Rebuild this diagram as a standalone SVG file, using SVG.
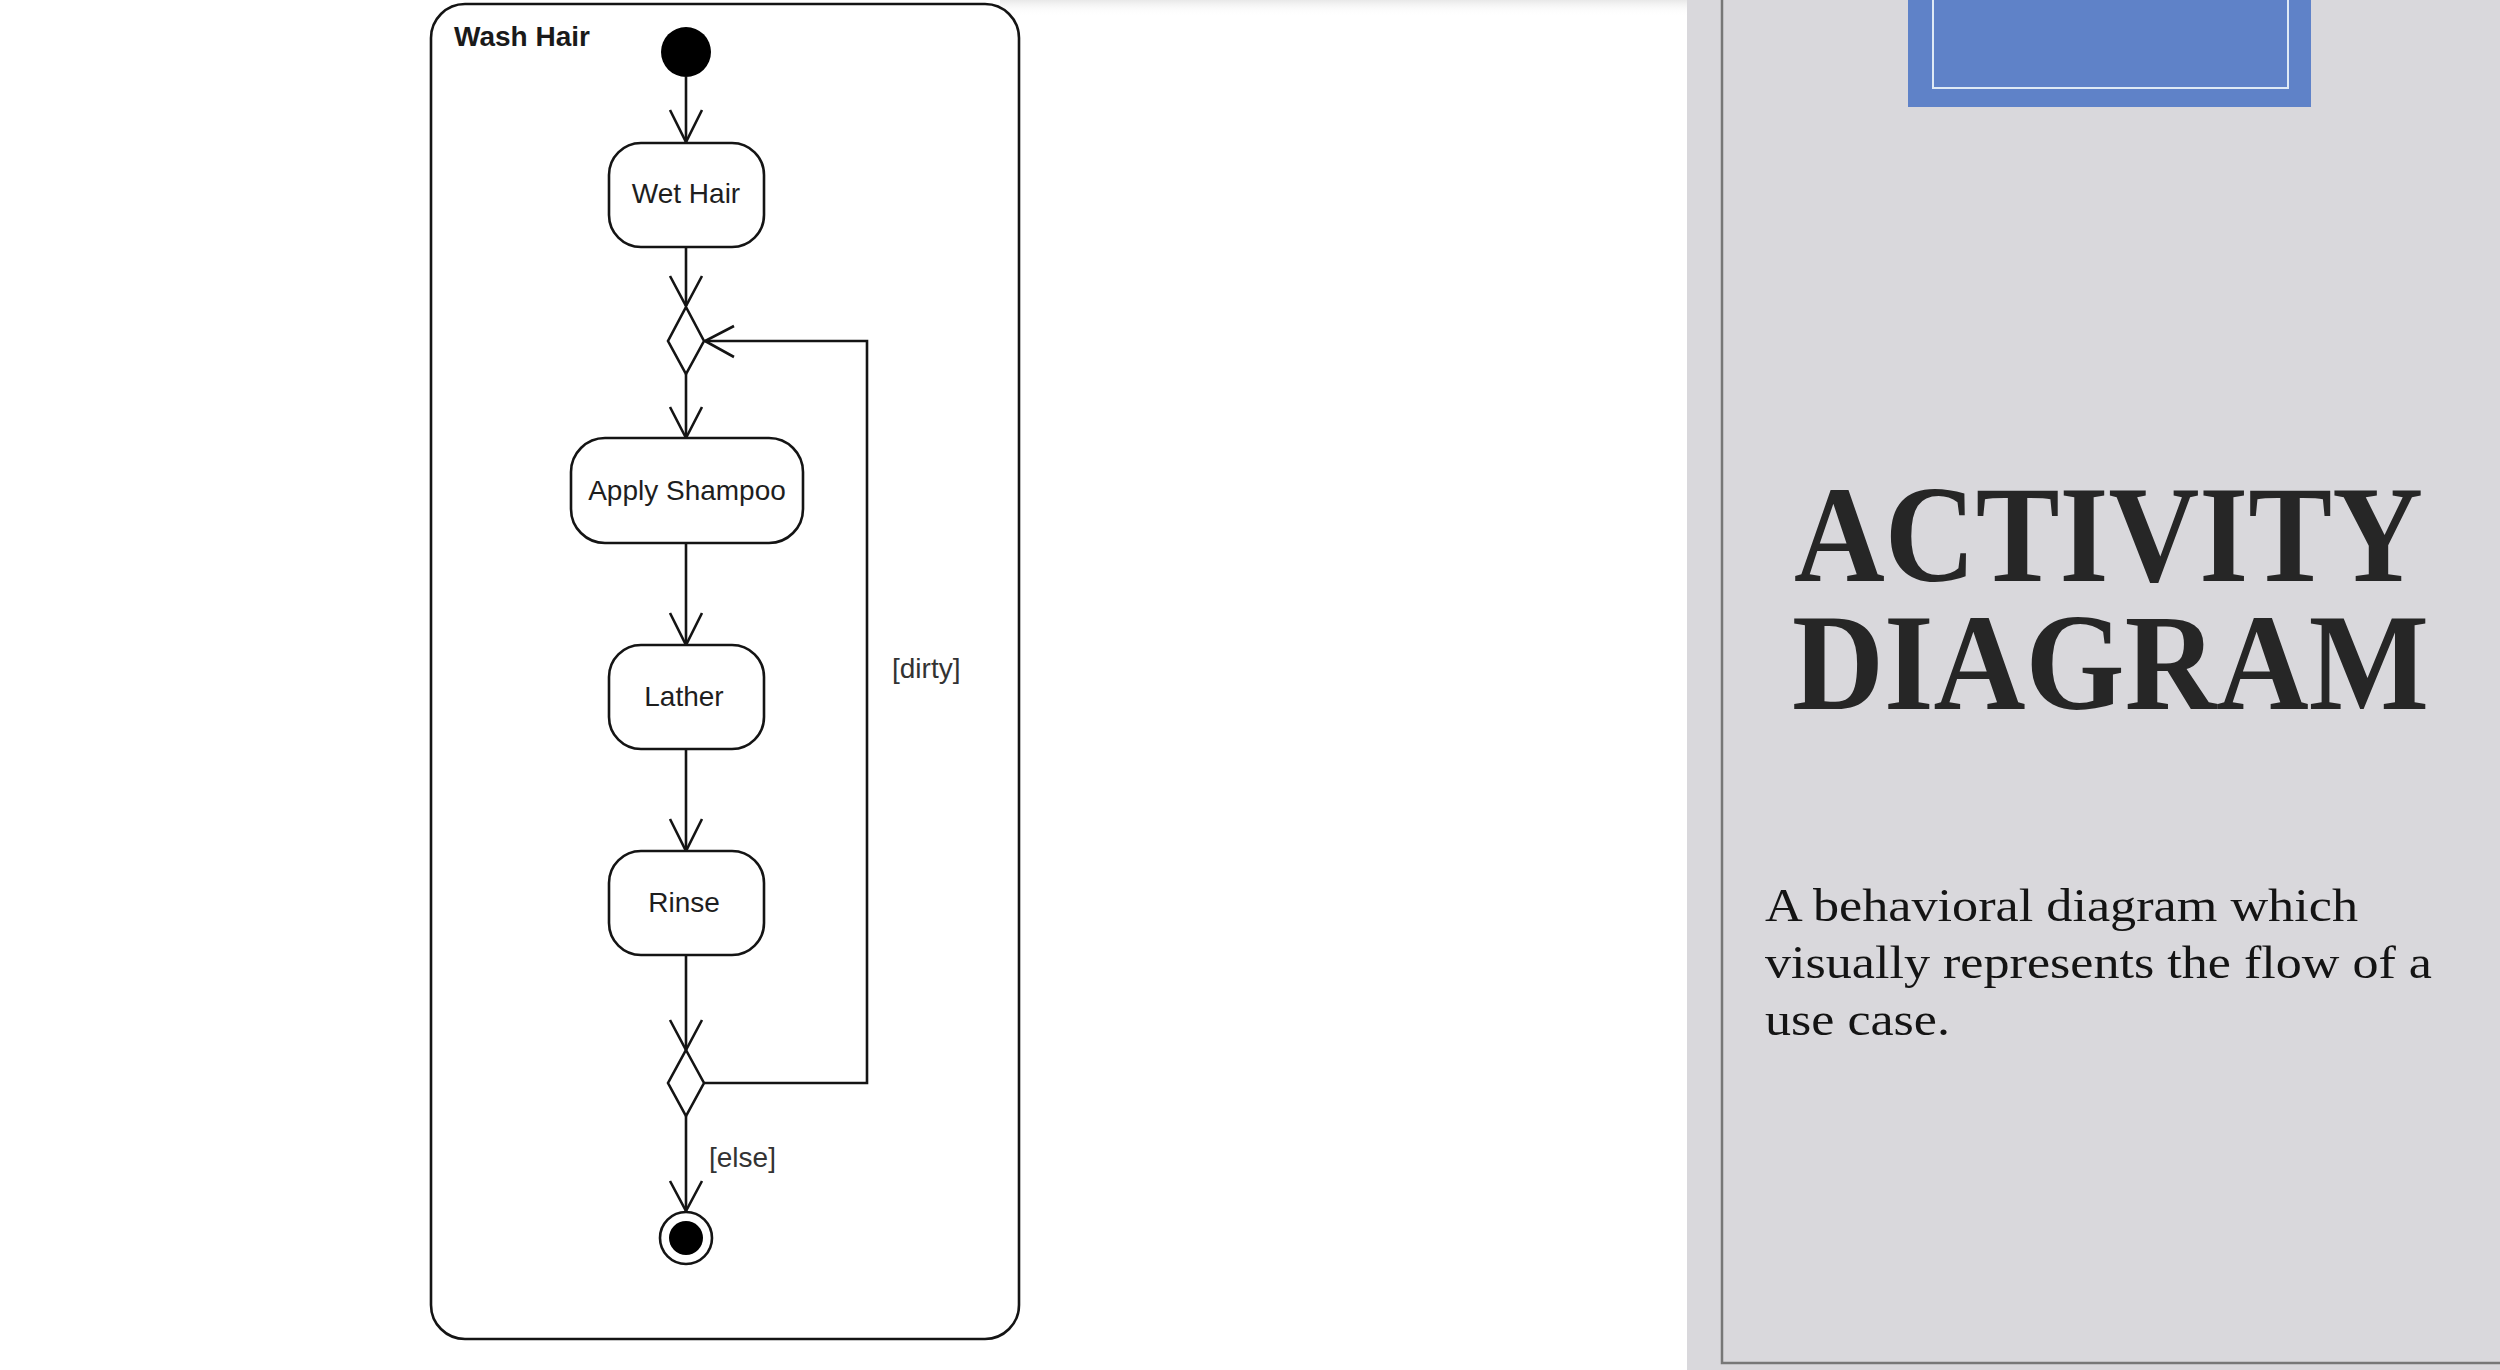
<svg xmlns="http://www.w3.org/2000/svg" width="2500" height="1370" viewBox="0 0 2500 1370">
<defs>
<style>
.ln{fill:none;stroke:#141414;stroke-width:2.6;stroke-linejoin:miter}
.box{fill:#ffffff;stroke:#141414;stroke-width:2.6}
.lbl{font-family:"Liberation Sans",Arial,sans-serif;font-size:28px;fill:#1e1e1e;text-anchor:middle}
.grd{font-family:"Liberation Sans",Arial,sans-serif;font-size:28px;fill:#333333}
.ttl{font-family:"Liberation Serif","Times New Roman",serif;font-weight:bold;font-size:138px;fill:#262626}
.body{font-family:"Liberation Serif","Times New Roman",serif;font-size:46px;fill:#141414}
</style>
<linearGradient id="topShade" x1="0" y1="0" x2="0" y2="1">
<stop offset="0" stop-color="#e8e8e8"/>
<stop offset="1" stop-color="#ffffff" stop-opacity="0"/>
</linearGradient>
</defs>
<rect width="2500" height="1370" fill="#ffffff"/>
<rect x="1000" y="0" width="687" height="16" fill="url(#topShade)"/>

<g id="side-panel">
<rect x="1687" y="0" width="813" height="1370" fill="#d9d8dc"/>
<path d="M1722 0 V1363 H2500" fill="none" stroke="#777777" stroke-width="2.5"/>
<rect x="1908" y="0" width="403" height="107" fill="#5f82c8"/>
<path d="M1933 0 V88 H2288 V0" fill="none" stroke="#dfeaf5" stroke-width="2"/>
<text class="ttl"><tspan x="1794" y="581" textLength="629" lengthAdjust="spacingAndGlyphs">ACTIVITY</tspan><tspan x="1792" y="709" textLength="637" lengthAdjust="spacingAndGlyphs">DIAGRAM</tspan></text>
<text class="body" x="1765" y="921" textLength="593" lengthAdjust="spacingAndGlyphs">A behavioral diagram which</text>
<text class="body" x="1765" y="978" textLength="667" lengthAdjust="spacingAndGlyphs">visually represents the flow of a</text>
<text class="body" x="1765" y="1035" textLength="185" lengthAdjust="spacingAndGlyphs">use case.</text>
</g>

<g id="frame">
<rect x="431" y="4" width="588" height="1335" rx="34" ry="34" fill="none" stroke="#141414" stroke-width="2.6"/>
<text x="454" y="46" font-family="'Liberation Sans',Arial,sans-serif" font-weight="bold" font-size="28" fill="#1a1a1a">Wash Hair</text>
</g>

<g id="connectors">
<path class="ln" d="M686 77 V143"/>
<path class="ln" d="M670 110 L686 142 L702 110"/>
<path class="ln" d="M686 247 V306"/>
<path class="ln" d="M670 276 L686 306 L702 276"/>
<path class="ln" d="M686 374 V438"/>
<path class="ln" d="M670 407 L686 438 L702 407"/>
<path class="ln" d="M686 543 V645"/>
<path class="ln" d="M670 613 L686 645 L702 613"/>
<path class="ln" d="M686 749 V851"/>
<path class="ln" d="M670 819 L686 851 L702 819"/>
<path class="ln" d="M686 955 V1050"/>
<path class="ln" d="M670 1020 L686 1050 L702 1020"/>
<path class="ln" d="M704 1083 H867 V341 H705"/>
<path class="ln" d="M734 326 L705 341 L734 357"/>
<path class="ln" d="M686 1116 V1211"/>
<path class="ln" d="M670 1181 L686 1211 L702 1181"/>
<text class="grd" x="892" y="678">[dirty]</text>
<text class="grd" x="709" y="1167">[else]</text>
</g>

<g id="start">
<circle cx="686" cy="52" r="25" fill="#000000"/>
</g>
<g id="wet-hair">
<rect class="box" x="609" y="143" width="155" height="104" rx="32"/>
<text class="lbl" x="686" y="203">Wet Hair</text>
</g>
<g id="merge">
<polygon points="686,307 704,341 686,374 668,341" fill="#ffffff" stroke="#141414" stroke-width="2.6"/>
</g>
<g id="apply-shampoo">
<rect class="box" x="571" y="438" width="232" height="105" rx="34"/>
<text class="lbl" x="687" y="500">Apply Shampoo</text>
</g>
<g id="lather">
<rect class="box" x="609" y="645" width="155" height="104" rx="32"/>
<text class="lbl" x="684" y="706">Lather</text>
</g>
<g id="rinse">
<rect class="box" x="609" y="851" width="155" height="104" rx="32"/>
<text class="lbl" x="684" y="912">Rinse</text>
</g>
<g id="decision">
<polygon points="686,1050 704,1083 686,1116 668,1083" fill="#ffffff" stroke="#141414" stroke-width="2.6"/>
</g>
<g id="end">
<circle cx="686" cy="1238" r="26" fill="#ffffff" stroke="#141414" stroke-width="2.6"/>
<circle cx="686" cy="1238" r="17" fill="#000000"/>
</g>
</svg>
